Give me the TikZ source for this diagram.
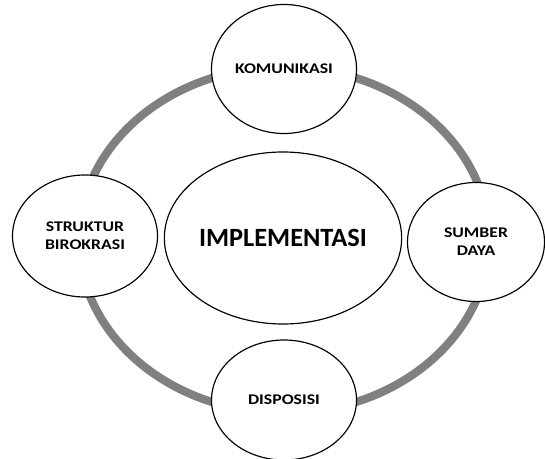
\documentclass[tikz,border=0pt]{standalone}
\usepackage{fontspec}
\setmainfont{Carlito}
\newfontfamily\labelfont[FakeStretch=1.2]{Carlito}
\usetikzlibrary{shapes.geometric}
\definecolor{ringgray}{RGB}{128,128,128}

\begin{document}
\begin{tikzpicture}[x=0.03cm, y=-0.03cm]
	
	% 定义样式
	\tikzset{
		factor/.style = {
			ellipse, draw, line width=1pt, fill=white,
			align=center, inner sep=0pt,
			font=\labelfont\bfseries\fontsize{12.6}{15.5}\selectfont
		},
		core/.style = {
			ellipse, draw, line width=1pt, fill=white,
			inner sep=0pt, minimum width=6.54cm, minimum height=5.16cm,
			font=\bfseries\fontsize{22.5}{27}\selectfont
		},
		ring/.style = {
			draw=ringgray, line width=7pt
		}
	}
	
	% 参数设置
	\def \ringX {6.15cm}
	\def \ringY {5.19cm}
	
	\useasboundingbox (0,0) rectangle (545,458);
	
	% 外圈
	\coordinate (ctr) at (284,240);
	\draw[ring] (ctr) ellipse [x radius=\ringX, y radius=\ringY];
	
	% 中心
	\node[core] (impl) at (283,238) {IMPLEMENTASI};
	
	% 四个因素
	\node[factor, minimum width=4.35cm, minimum height=3.87cm] (kom) at (284,69) {KOMUNIKASI};
	\node[factor, minimum width=4.11cm, minimum height=3.57cm] (sdm) at (476,242) {SUMBER\\DAYA};
	\node[factor, minimum width=4.35cm, minimum height=3.60cm] (dis) at (284,400) {DISPOSISI};
	\node[factor, minimum width=4.35cm, minimum height=3.66cm] (str) at (85,236) {STRUKTUR\\BIROKRASI};
	
\end{tikzpicture}
\end{document}
